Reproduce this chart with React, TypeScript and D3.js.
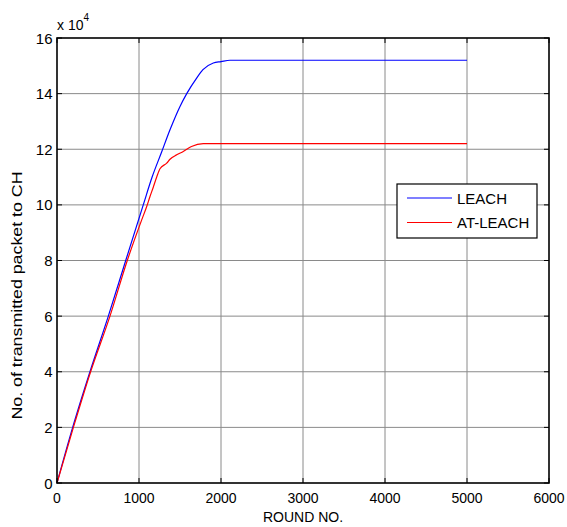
import * as d3 from "d3";

// rounds (x) and transmitted packets to CH (x 10^4)
const leachRounds = [0, 191, 402, 626, 838, 1052, 1160, 1276, 1378, 1500, 1582, 1703, 1780, 1906, 2000, 2110, 5000];
const leachPackets = [0, 2, 4, 6, 8, 10, 11.0, 11.9, 12.7, 13.54, 14, 14.56, 14.86, 15.1, 15.15, 15.2, 15.2];

const atLeachRounds = [0, 200, 410, 646, 857, 1033, 1094, 1134, 1170, 1216, 1256, 1338, 1378, 1460, 1540, 1640, 1784, 5000];
const atLeachPackets = [0, 2, 4, 6, 8, 9.46, 9.94, 10.3, 10.6, 11.0, 11.3, 11.5, 11.64, 11.8, 11.92, 12.1, 12.2, 12.2];

const xTicks = [0, 1000, 2000, 3000, 4000, 5000, 6000];
const yTicks = [0, 2, 4, 6, 8, 10, 12, 14, 16];

const seriesNames = ["LEACH", "AT-LEACH"];
const seriesColors = ["#0000ff", "#ff0000"];

const width = 567, height = 527;
const margin = { top: 38, right: 18, bottom: 44, left: 57 };
const font = "'Liberation Sans', Arial, sans-serif";

export default function App() {
  const x = d3.scaleLinear().domain([0, 6000]).range([margin.left, width - margin.right]);
  const y = d3.scaleLinear().domain([0, 16]).range([height - margin.bottom, margin.top]);

  const line = d3.line<[number, number]>()
    .x((d) => x(d[0]))
    .y((d) => y(d[1]))
    .curve(d3.curveMonotoneX);

  const series = [
    d3.zip(leachRounds, leachPackets) as [number, number][],
    d3.zip(atLeachRounds, atLeachPackets) as [number, number][],
  ];

  const [x0, x1] = x.range();
  const [y0, y1] = y.range();
  const tick = 5;

  // legend box
  const lg = { x: 397, y: 184, w: 140, h: 54 };

  return (
    <svg width={width} height={height} style={{ position: "absolute", left: 0, top: 0, background: "#fff" }}>
      {/* grid */}
      {xTicks.slice(1, -1).map((t) => (
        <line key={"gx" + t} x1={x(t)} x2={x(t)} y1={y0} y2={y1} stroke="#8a8a8a" strokeWidth={1} />
      ))}
      {yTicks.slice(1, -1).map((t) => (
        <line key={"gy" + t} x1={x0} x2={x1} y1={y(t)} y2={y(t)} stroke="#8a8a8a" strokeWidth={1} />
      ))}

      {/* data lines */}
      {series.map((s, i) => (
        <path key={i} d={line(s) || ""} fill="none" stroke={seriesColors[i]} strokeWidth={1.2} />
      ))}

      {/* tick marks, inward on all sides */}
      {xTicks.map((t) => (
        <g key={"tx" + t}>
          <line x1={x(t)} x2={x(t)} y1={y0} y2={y0 - tick} stroke="#000" />
          <line x1={x(t)} x2={x(t)} y1={y1} y2={y1 + tick} stroke="#000" />
        </g>
      ))}
      {yTicks.map((t) => (
        <g key={"ty" + t}>
          <line x1={x0} x2={x0 + tick} y1={y(t)} y2={y(t)} stroke="#000" />
          <line x1={x1} x2={x1 - tick} y1={y(t)} y2={y(t)} stroke="#000" />
        </g>
      ))}

      {/* axes box */}
      <rect x={x0} y={y1} width={x1 - x0} height={y0 - y1} fill="none" stroke="#000" strokeWidth={1.6} />

      {/* tick labels */}
      {xTicks.map((t) => (
        <text key={"lx" + t} x={x(t)} y={y0 + 20} textAnchor="middle" fontFamily={font} fontSize={14}>
          {t}
        </text>
      ))}
      {yTicks.map((t) => (
        <text key={"ly" + t} x={x0 - 4.5} y={y(t) + 5.5} textAnchor="end" fontFamily={font} fontSize={15}>
          {t}
        </text>
      ))}

      {/* exponent */}
      <text x={x0} y={30} fontFamily={font} fontSize={14}>
        x 10<tspan dy={-9} fontSize={10}>4</tspan>
      </text>

      {/* axis labels */}
      <text x={(x0 + x1) / 2} y={522} textAnchor="middle" fontFamily={font} fontSize={14}>
        ROUND NO.
      </text>
      <text
        transform={`translate(22, ${(y0 + y1) / 2 + 35}) rotate(-90)`}
        textAnchor="middle"
        fontFamily={font}
        fontSize={15}
        textLength={248}
        lengthAdjust="spacingAndGlyphs"
      >
        No. of transmitted packet to CH
      </text>

      {/* legend */}
      <rect x={lg.x} y={lg.y} width={lg.w} height={lg.h} fill="#fff" stroke="#000" strokeWidth={1.2} />
      {seriesNames.map((n, i) => (
        <g key={n}>
          <line x1={lg.x + 10} x2={lg.x + 55} y1={lg.y + 14 + i * 24.5} y2={lg.y + 14 + i * 24.5} stroke={seriesColors[i]} strokeWidth={1.2} />
          <text x={lg.x + 60} y={lg.y + 19.5 + i * 24.5} fontFamily={font} fontSize={15}>
            {n}
          </text>
        </g>
      ))}
    </svg>
  );
}
